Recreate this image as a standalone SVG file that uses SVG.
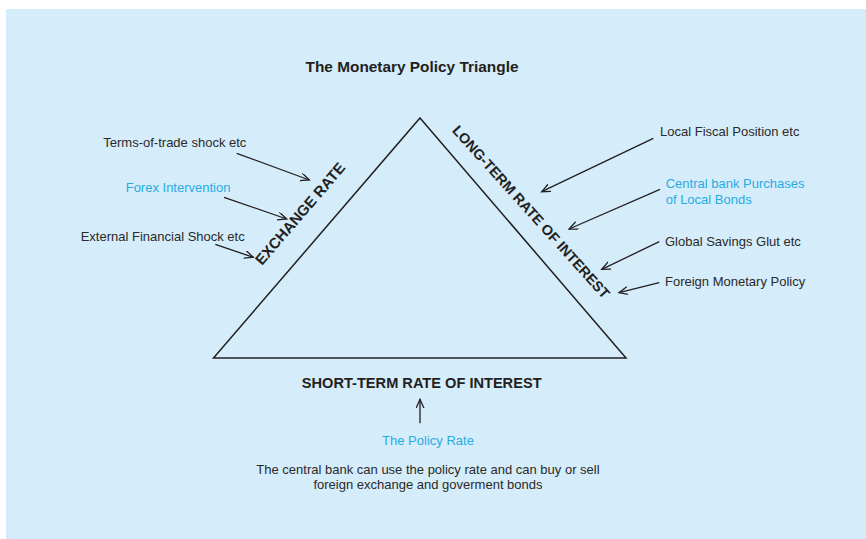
<svg xmlns="http://www.w3.org/2000/svg" width="866" height="539" viewBox="0 0 866 539">
<defs>
<style>
.t{font-family:"Liberation Sans",Arial,sans-serif;font-size:13px;fill:#2b2a29}
.b{fill:#29abe2}
.h{font-family:"Liberation Sans",Arial,sans-serif;font-size:15px;font-weight:bold;fill:#231f20}
.c{stroke:#231f20;stroke-width:1.3;fill:none}
</style>
<marker id="ah" markerUnits="userSpaceOnUse" markerWidth="12" markerHeight="10" refX="9" refY="4" orient="auto">
<path d="M0,0 L9,4 L0,8" fill="none" stroke="#231f20" stroke-width="1.3"/>
</marker>
</defs>
<rect x="6" y="9" width="860" height="530" fill="#d5ecfa"/>
<g id="title"><text class="h" x="412" y="72" text-anchor="middle" style="font-size:15.4px">The Monetary Policy Triangle</text></g>
<g id="triangle"><polygon points="420,118 626,358 213.5,358" fill="none" stroke="#231f20" stroke-width="1.5" stroke-linejoin="miter"/></g>
<g id="exchange-rate"><text class="h" transform="translate(262,266) rotate(-49.3)">EXCHANGE RATE</text></g>
<g id="long-term-rate"><text class="h" transform="translate(451.5,131) rotate(48)" style="font-size:14.3px">LONG-TERM RATE OF INTEREST</text></g>
<g id="short-term-rate"><text class="h" x="421.7" y="387.7" text-anchor="middle" style="font-size:14.6px">SHORT-TERM RATE OF INTEREST</text></g>
<g id="terms-of-trade"><text class="t" x="103.3" y="146.7">Terms-of-trade shock etc</text></g>
<g id="forex"><text class="t b" x="125.7" y="191.7">Forex Intervention</text></g>
<g id="external"><text class="t" x="80.7" y="240.7">External Financial Shock etc</text></g>
<g id="local-fiscal"><text class="t" x="660" y="135.7">Local Fiscal Position etc</text></g>
<g id="cb-purchases"><text class="t b" x="665.7" y="188.3">Central bank Purchases</text><text class="t b" x="665.7" y="204">of Local Bonds</text></g>
<g id="global-savings"><text class="t" x="665" y="246">Global Savings Glut etc</text></g>
<g id="foreign-monetary"><text class="t" x="665" y="285.7">Foreign Monetary Policy</text></g>
<g id="policy-rate"><text class="t b" x="428" y="445" text-anchor="middle">The Policy Rate</text></g>
<g id="note"><text class="t" x="428" y="474.3" text-anchor="middle">The central bank can use the policy rate and can buy or sell</text><text class="t" x="428" y="489" text-anchor="middle">foreign exchange and goverment bonds</text></g>
<g id="connectors">
<line class="c" x1="236.7" y1="153.3" x2="309.3" y2="180" marker-end="url(#ah)"/>
<line class="c" x1="224" y1="197.3" x2="286.7" y2="219" marker-end="url(#ah)"/>
<line class="c" x1="215.3" y1="244.3" x2="253.3" y2="257.3" marker-end="url(#ah)"/>
<line class="c" x1="653.3" y1="138.3" x2="541.7" y2="191.7" marker-end="url(#ah)"/>
<line class="c" x1="660" y1="189.3" x2="569" y2="229" marker-end="url(#ah)"/>
<line class="c" x1="659.3" y1="241.7" x2="601.7" y2="269.3" marker-end="url(#ah)"/>
<line class="c" x1="659.3" y1="282.7" x2="619" y2="292.7" marker-end="url(#ah)"/>
<line class="c" x1="420" y1="423.3" x2="420" y2="399.3" marker-end="url(#ah)"/>
</g>
</svg>
